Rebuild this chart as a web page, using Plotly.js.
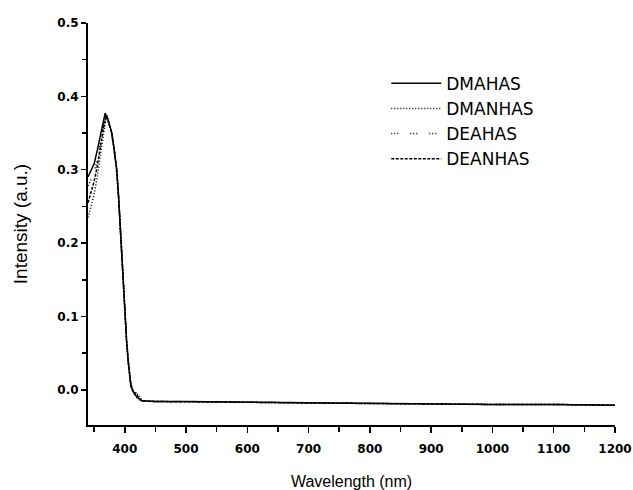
<!DOCTYPE html>
<html>
<head>
<meta charset="utf-8">
<script src="https://cdn.plot.ly/plotly-3.0.1.min.js"></script>
<style>html,body{margin:0;padding:0;background:#fff}#chart{width:633px;height:490px}</style>
</head>
<body>
<div id="chart"></div>
<script>
// Wavelength grid (nm)
const wlDMAHAS = [340,345,350,355,360,365,368,372,375,379,383,387,390,394,397,400,403,406,410,415,420,428,450,500,600,700,800,900,1000,1100,1200];
const yDMAHAS  = [0.290,0.298,0.308,0.326,0.346,0.366,0.377,0.370,0.360,0.350,0.326,0.300,0.262,0.200,0.150,0.100,0.066,0.036,0.006,-0.005,-0.010,-0.015,-0.016,-0.016,-0.017,-0.018,-0.019,-0.019,-0.020,-0.020,-0.021];

const wlDMANHAS = [340,345,350,355,360,365,370,374,379,383,387,390,394,397,400,403,406,410,414,418,422,428,450,500,600,700,800,900,1000,1100,1200];
const yDMANHAS  = [0.235,0.250,0.266,0.290,0.318,0.348,0.375,0.362,0.348,0.324,0.298,0.260,0.198,0.148,0.098,0.064,0.034,0.004,-0.002,-0.008,-0.006,-0.015,-0.016,-0.016,-0.017,-0.018,-0.019,-0.019,-0.020,-0.020,-0.021];

const wlDEAHAS = [340,345,350,355,360,365,369,373,377,381,385,389,393,396,399,402,405,409,413,417,421,428,450,500,600,700,800,900,1000,1100,1200];
const yDEAHAS  = [0.278,0.286,0.296,0.314,0.338,0.362,0.376,0.368,0.356,0.338,0.312,0.276,0.218,0.168,0.118,0.078,0.046,0.012,0.000,-0.006,-0.012,-0.015,-0.016,-0.016,-0.017,-0.018,-0.019,-0.019,-0.020,-0.020,-0.021];

const wlDEANHAS = [340,345,350,355,360,365,370,374,378,382,386,390,394,397,400,403,406,410,414,418,423,428,450,500,600,700,800,900,1000,1100,1200];
const yDEANHAS  = [0.255,0.268,0.284,0.304,0.330,0.356,0.374,0.364,0.352,0.332,0.306,0.262,0.200,0.150,0.100,0.066,0.036,0.006,-0.004,-0.004,-0.012,-0.015,-0.016,-0.016,-0.017,-0.018,-0.019,-0.019,-0.020,-0.020,-0.021];

const seriesNames = ['DMAHAS','DMANHAS','DEAHAS','DEANHAS'];
const xTickVals = [400,500,600,700,800,900,1000,1100,1200];
const xMinorVals = [350,450,550,650,750,850,950,1050,1150];
const yTickVals = [0.0,0.1,0.2,0.3,0.4,0.5];
const yMinorVals = [0.05,0.15,0.25,0.35,0.45];

const mk = (x,y,name,dash,g) => ({x:x,y:y,name:name,type:'scatter',mode:'lines',legendgroup:g,
  line:{color:'#000',width:1.5,dash:dash}});

const data = [
  mk(wlDMAHAS,yDMAHAS,seriesNames[0],'solid','a'),
  mk(wlDMANHAS,yDMANHAS,seriesNames[1],'1px,2px','b'),
  mk(wlDEAHAS,yDEAHAS,seriesNames[2],'1px,2px,1px,2px,1px,12px','c'),
  mk(wlDEANHAS,yDEANHAS,seriesNames[3],'3px,1.5px','d')
];

const tickFont = {family:'DejaVu Sans, sans-serif',size:12,color:'#000',weight:'bold'};
const layout = {
  width:633,height:490,
  margin:{l:88,r:18,t:23,b:65},
  paper_bgcolor:'#fff',plot_bgcolor:'#fff',
  showlegend:true,
  legend:{x:0.566,y:0.8935,xanchor:'left',yanchor:'top',bgcolor:'rgba(0,0,0,0)',
    font:{family:'DejaVu Sans, sans-serif',size:17,color:'#000'},
    itemwidth:50,tracegroupgap:0},
  xaxis:{range:[340,1200],showgrid:false,zeroline:false,showline:true,linecolor:'#000',linewidth:2,
    ticks:'outside',ticklen:6,tickwidth:1.5,tickcolor:'#000',tickvals:xTickVals,ticklabelstandoff:6,
    minor:{tickvals:xMinorVals,ticks:'outside',ticklen:5,tickwidth:1.5,tickcolor:'#000'},
    tickfont:tickFont,
    title:{text:'Wavelength (nm)',font:{family:'Liberation Sans, Arial, sans-serif',size:16,color:'#000'},standoff:20}},
  yaxis:{range:[-0.048,0.5],showgrid:false,zeroline:false,showline:true,linecolor:'#000',linewidth:2,
    ticks:'outside',ticklen:5,tickwidth:1.5,tickcolor:'#000',tickvals:yTickVals,tickformat:'.1f',
    minor:{tickvals:yMinorVals,ticks:'outside',ticklen:4,tickwidth:1.5,tickcolor:'#000'},
    tickfont:tickFont,
    title:{text:'Intensity (a.u.)',font:{family:'Liberation Sans, Arial, sans-serif',size:19,color:'#000'},standoff:25}}
};
Plotly.newPlot('chart',data,layout,{staticPlot:true});
</script>
</body>
</html>
